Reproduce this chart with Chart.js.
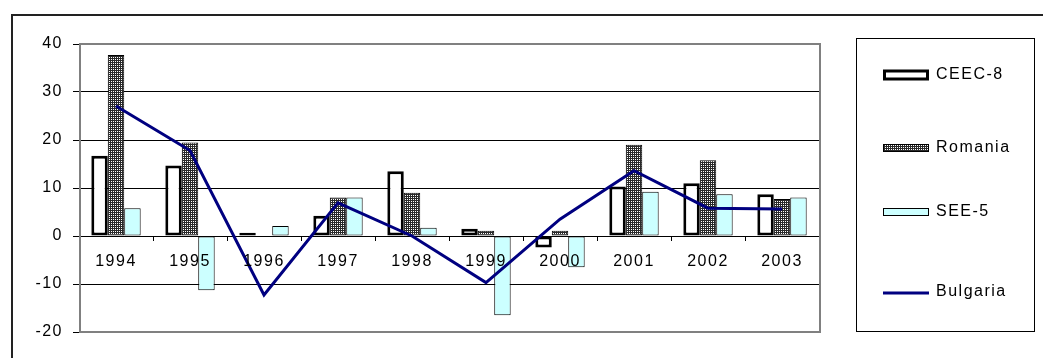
<!DOCTYPE html>
<html>
<head>
<meta charset="utf-8">
<script src="https://cdn.jsdelivr.net/npm/chart.js@4/dist/chart.umd.min.js"></script>
<style>
  html, body { margin: 0; padding: 0; background: #fff; overflow: hidden; }
  canvas { display: block; }
</style>
</head>
<body>
<canvas id="c" width="1043" height="358"></canvas>
<script>
const years = ['1994', '1995', '1996', '1997', '1998', '1999', '2000', '2001', '2002', '2003'];
const seriesNames = ['CEEC-8', 'Romania', 'SEE-5', 'Bulgaria'];
const ceec8 = [16.7, 14.7, 0.7, 4.2, 13.5, 1.5, -2.4, 10.3, 11.0, 8.7];
const romania = [37.7, 19.5, null, 8.0, 9.0, 1.1, 1.1, 19.0, 15.8, 7.7];
const see5 = [5.8, -11.3, 2.1, 8.0, 1.7, -16.5, -6.5, 9.2, 8.7, 8.0];
const bulgaria = [27.1, 17.8, -12.3, 6.9, 0.0, -9.7, 3.5, 13.6, 5.8, 5.6];
const yTicks = [-20, -10, 0, 10, 20, 30, 40];

const FONT = '"Liberation Sans", Arial, sans-serif';

function makePattern() {
  const p = document.createElement('canvas');
  p.width = 2; p.height = 2;
  const g = p.getContext('2d');
  g.fillStyle = '#2a2a2a';
  g.fillRect(0, 0, 2, 2);
  g.fillStyle = '#ffffff';
  g.fillRect(1, 1, 1, 1);
  return g.createPattern(p, 'repeat');
}
const romPattern = makePattern();

const spacingPlugin = {
  id: 'spacing',
  beforeUpdate(chart) { chart.ctx.letterSpacing = '1.5px'; },
  beforeLayout(chart) { chart.ctx.letterSpacing = '1.5px'; },
  beforeDraw(chart) {
    const ctx = chart.ctx;
    ctx.letterSpacing = '1.5px';
    ctx.save();
    ctx.fillStyle = '#fff';
    ctx.fillRect(0, 0, chart.width, chart.height);
    ctx.strokeStyle = '#222';
    ctx.lineWidth = 2;
    ctx.beginPath();
    ctx.moveTo(12, chart.height + 5);
    ctx.lineTo(12, 15);
    ctx.lineTo(chart.width + 5, 15);
    ctx.stroke();
    ctx.restore();
  }
};

const plotBorderPlugin = {
  id: 'plotBorder',
  afterDatasetsDraw(chart) {
    const a = chart.chartArea, ctx = chart.ctx;
    ctx.save();
    ctx.strokeStyle = '#808080';
    ctx.lineWidth = 2;
    ctx.strokeRect(a.left + 1, a.top, a.right - a.left, a.bottom - a.top);
    ctx.restore();
  }
};

const legendPlugin = {
  id: 'customLegend',
  afterDraw(chart) {
    const ctx = chart.ctx;
    ctx.save();
    ctx.letterSpacing = '1.5px';
    ctx.strokeStyle = '#000';
    ctx.lineWidth = 1;
    ctx.strokeRect(856.5, 38.5, 178, 293);
    const ys = [75, 148, 212, 292];
    const sx = 883, sw = 46;
    chart.data.datasets.forEach((ds, i) => {
      const cy = ys[i];
      if (ds.type === 'line') {
        ctx.strokeStyle = ds.borderColor;
        ctx.lineWidth = 3;
        ctx.beginPath();
        ctx.moveTo(sx, cy + 1);
        ctx.lineTo(sx + sw, cy + 1);
        ctx.stroke();
      } else {
        const h = i === 0 ? 11 : 8;
        const bw = ds.borderWidth;
        ctx.fillStyle = ds.backgroundColor;
        ctx.fillRect(sx, cy - h / 2, sw, h);
        ctx.strokeStyle = ds.borderColor;
        ctx.lineWidth = bw;
        ctx.strokeRect(sx + bw / 2, cy - h / 2 + bw / 2, sw - bw, h - bw);
      }
      ctx.fillStyle = '#000';
      ctx.font = '16px ' + FONT;
      ctx.textAlign = 'left';
      ctx.textBaseline = 'middle';
      ctx.fillText(ds.label, 936, cy);
    });
    ctx.restore();
  }
};

new Chart(document.getElementById('c'), {
  type: 'bar',
  data: {
    labels: years,
    datasets: [
      { label: seriesNames[0], data: ceec8, backgroundColor: '#ffffff', borderColor: '#000000',
        borderWidth: 3, borderSkipped: false, order: 1 },
      { label: seriesNames[1], data: romania, backgroundColor: romPattern, borderColor: '#000000',
        borderWidth: 1, borderSkipped: false, order: 1 },
      { label: seriesNames[2], data: see5, backgroundColor: '#ccffff', borderColor: '#000000',
        borderWidth: 1, borderSkipped: false, order: 1 },
      { type: 'line', label: seriesNames[3], data: bulgaria, borderColor: '#000080', borderWidth: 3,
        pointRadius: 0, tension: 0, fill: false, order: 0 }
    ]
  },
  options: {
    responsive: false,
    animation: false,
    devicePixelRatio: 1,
    events: [],
    datasets: { bar: { categoryPercentage: 0.667, barPercentage: 1.0 } },
    layout: { padding: { left: 0, top: 44, right: 224, bottom: 26 } },
    plugins: { legend: { display: false }, tooltip: { enabled: false }, title: { display: false } },
    scales: {
      x: {
        position: { y: 0 },
        offset: true,
        afterFit(scale) { scale.height = 0; },
        grid: { display: true, drawOnChartArea: false, drawTicks: true, tickLength: 5, tickColor: '#000', offset: true, color: '#000' },
        border: { display: false },
        ticks: { z: 1, color: '#000', font: { family: FONT, size: 16 }, padding: 11, maxRotation: 0, autoSkip: false }
      },
      y: {
        min: yTicks[0], max: yTicks[yTicks.length - 1],
        afterFit(scale) { scale.width = 79; },
        afterBuildTicks(scale) { scale.ticks = yTicks.map(v => ({ value: v })); },
        grid: { color: '#000', lineWidth: 1, tickLength: 6, tickColor: '#000', drawTicks: true },
        border: { display: false },
        ticks: { color: '#000', font: { family: FONT, size: 16 }, padding: 10 }
      }
    }
  },
  plugins: [spacingPlugin, plotBorderPlugin, legendPlugin]
});
</script>
</body>
</html>
